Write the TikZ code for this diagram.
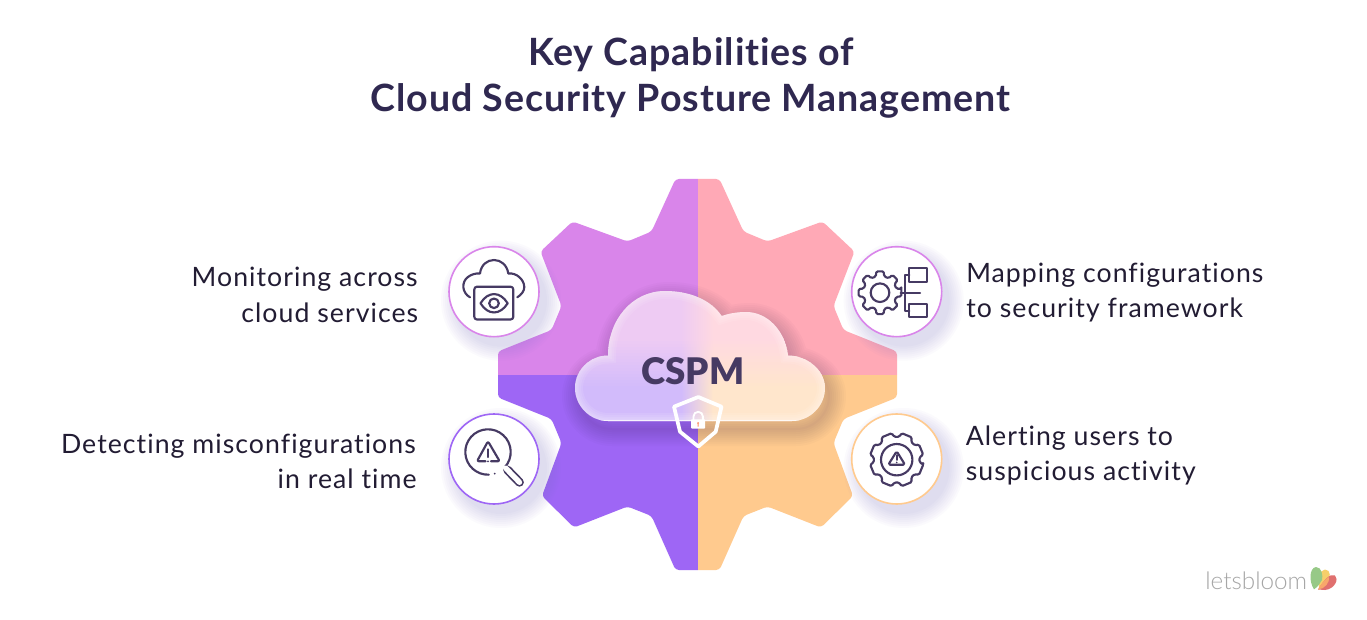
\documentclass[tikz,border=0pt]{standalone}
\usepackage{fontspec}
\usetikzlibrary{calc}
\newfontfamily\bodyf[LetterSpace=3.9,Ligatures=NoCommon]{Lato}
\newfontfamily\titlef[LetterSpace=2.5,Ligatures=NoCommon]{Lato Bold}
\newfontfamily\cspmf{Lato Black}
\newfontfamily\logof{Lato Light}
\definecolor{ink}{HTML}{221C33}
\definecolor{titlec}{HTML}{2F2850}
\definecolor{iconc}{HTML}{463A63}
\definecolor{qa}{HTML}{D985EA}
\definecolor{qb}{HTML}{FFA9B6}
\definecolor{qc}{HTML}{9E66F5}
\definecolor{qd}{HTML}{FFCA8E}
\definecolor{ca}{HTML}{EECBF3}
\definecolor{cb}{HTML}{FFD9E1}
\definecolor{cc}{HTML}{D2BBFB}
\definecolor{cd}{HTML}{FFE6CC}
\definecolor{shad}{HTML}{7566C8}
\definecolor{logog}{HTML}{A6A6A6}
\definecolor{pgreen}{HTML}{97C987}
\definecolor{pyellow}{HTML}{F6CF6B}
\definecolor{porange}{HTML}{F8A76B}
\definecolor{pred}{HTML}{E0706F}
\tikzset{
  bodyr/.style={font=\bodyf\fontsize{20}{24}\selectfont,text=ink,inner sep=0pt,anchor=base east},
  bodyl/.style={font=\bodyf\fontsize{20}{24}\selectfont,text=ink,inner sep=0pt,anchor=base west},
  titletxt/.style={font=\titlef\fontsize{28.2}{32}\selectfont,text=titlec,inner sep=0pt,anchor=base},
  badge/.style={circle,fill=white,line width=1.2pt,minimum size=67.5pt,inner sep=0pt},
  ic/.style={draw=iconc,line width=1.6pt,line cap=round,line join=round},
}
\def\gearpath{(697.5,179) -- (675.5,179) -- (651.5,231.5) -- (627.5,241.5) -- (572.5,221.5) -- (540.5,251.5) -- (561.5,306) -- (551.5,330) -- (498,351.5) -- (498,397.5) -- (551.5,419) -- (561.5,443) -- (542,496) -- (574,527.5) -- (627.5,506.5) -- (651.5,516) -- (675.5,570) -- (719.5,570) -- (743.5,516) -- (767.5,506.5) -- (821,527.5) -- (853,496) -- (833.5,443) -- (843.5,419) -- (897,397.5) -- (897,351.5) -- (843.5,330) -- (833.5,306) -- (854.5,251.5) -- (822.5,221.5) -- (767.5,241.5) -- (743.5,231.5) -- (719.5,179) -- cycle}
\def\cloudpath{(608,355.5) .. controls (590,355.5) and (575,370) .. (575,388) .. controls (575,406) and (590,421) .. (608,421) -- (792,421) .. controls (810,421) and (825,406) .. (825,388) .. controls (825,370) and (807,355.5) .. (788,355.5) .. controls (785,330) and (767,312) .. (746,312) .. controls (737,312) and (729,313.5) .. (721.7,316) .. controls (711,300) and (690,291) .. (665,291) .. controls (632,291) and (608,320) .. (608,355.5) -- cycle}
\newcommand\softshadow[2]{%
  \foreach \rr in {60,58,56,54,52,50,48,46}{
    \fill[shad,opacity=0.028] (#1+7,#2+9) circle[radius=\rr];
  }}
% cog: centre x, centre y, outer r, valley r, tooth offset deg, half width deg
\newcommand\cogicon[6]{%
  \draw[ic,rounded corners=1.1pt,shift={(#1,#2)}] (#5-#6:#3)
  \foreach \k in {0,45,...,315}{
    -- (#5+\k-#6:#3) -- (#5+\k+#6:#3) -- (#5+\k+#6+4:#4) -- (#5+\k+45-#6-4:#4)
  } -- cycle;}
\begin{document}
\begin{tikzpicture}[x=0.75pt,y=-0.75pt]
\useasboundingbox (0,0) rectangle (1367,620);
\fill[white] (0,0) rectangle (1367,620);
% title
\node[titletxt] (t1) at (691,66) {Key Capabilities of};
\node[titletxt] (t2) at (690.5,112) {Cloud Security Posture Management};
% gear
\begin{scope}
\clip[rounded corners=2.6pt] \gearpath;
\fill[qa] (490,170) rectangle (697.5,374.5);
\fill[qb] (697.5,170) rectangle (905,374.5);
\fill[qc] (490,374.5) rectangle (697.5,580);
\fill[qd] (697.5,374.5) rectangle (905,580);
% cloud shadow
\begin{scope}[shift={(4,8)}]
\foreach \w in {34,30,26,22,18,14,10,6,2}{
  \draw[black!65!qc,opacity=0.022,line width=\w*0.75pt,line join=round] \cloudpath;
}
\end{scope}
\end{scope}
% cloud body
\begin{scope}
\clip \cloudpath;
\fill[ca] (570,285) rectangle (682,340);
\fill[cb] (712,285) rectangle (830,340);
\shade[left color=ca,right color=cb] (681,285) rectangle (713,340);
\foreach \i in {0,...,16}{
  \pgfmathsetmacro\pc{100-\i*100/16}
  \pgfmathsetmacro\yy{338+\i*3}
  \pgfmathsetmacro\yz{\yy+4}
  \colorlet{tmpl}{ca!\pc!cc}
  \colorlet{tmpr}{cb!\pc!cd}
  \fill[tmpl] (570,\yy) rectangle (682,\yz);
  \fill[tmpr] (712,\yy) rectangle (830,\yz);
  \shade[left color=tmpl,right color=tmpr] (681,\yy) rectangle (713,\yz);
}
\fill[cc] (570,388) rectangle (682,425);
\fill[cd] (712,388) rectangle (830,425);
\shade[left color=cc,right color=cd] (681,388) rectangle (713,425);
\foreach \w in {16,12,8,5,2.5}{
  \draw[white,opacity=0.09,line width=\w*0.75pt] \cloudpath;
}
\draw[white,opacity=0.75,line width=1.2pt] (600,421) -- (800,421);
\end{scope}
\node[font=\cspmf\fontsize{27.5}{32}\selectfont,text=iconc,inner sep=0pt,anchor=base] (cspm) at (693,384) {CSPM};
% shield + lock
\draw[white,line width=2.8pt,line join=round] (698.3,397) -- (721.5,406.7) -- (715.7,431.7) -- (698.3,446.5) -- (680,431.7) -- (674,406.7) -- cycle;
\draw[white,line width=1.4pt] (693.5,420) -- (693.5,416.5) arc[start angle=180,end angle=360,radius=4.7] -- (702.9,420);
\fill[white,rounded corners=0.6pt] (691,419.3) rectangle (705.2,428.5);
\fill[qd!70!red] (698.1,423.2) circle[radius=1.1] (697.5,423.5) rectangle (698.7,426.5);
% badges
\softshadow{494}{291.7}\softshadow{494}{459}\softshadow{896.7}{291.7}\softshadow{896.7}{459}
\node[badge,draw=qa] (b1) at (494,291.7) {};
\node[badge,draw=qc] (b2) at (494,459) {};
\node[badge,draw=qa] (b3) at (896.7,291.7) {};
\node[badge,draw=qd] (b4) at (896.7,459) {};
% icon 1: cloud with eye
\draw[ic] (470,297.3) .. controls (462,293) and (461,282) .. (468,277) .. controls (471,274.5) and (476,273) .. (480,273.5) .. controls (481,265) and (487,260) .. (494,260) .. controls (501,260) and (507,265) .. (508.3,273.5) .. controls (516,272.5) and (524,279) .. (524.3,287) .. controls (524.5,291) and (521,295) .. (517.3,297.3);
\draw[ic,rounded corners=2pt] (474.3,286.7) rectangle (513.3,319.5);
\draw[ic] (480.5,303.3) .. controls (488,291) and (500,291) .. (507.7,303.3) .. controls (500,315.5) and (488,315.5) .. (480.5,303.3) -- cycle;
\draw[ic] (494,303.3) circle[radius=4.8];
% icon 2: magnifier with warning
\draw[ic] (488,452) ++(42:22.7) arc[start angle=42,end angle=-272,radius=22.7];
\fill[iconc] (494.7,473.7) circle[radius=1];
\draw[iconc,line width=6.6pt,line cap=round] (507.6,470) -- (519.5,482.3);
\draw[white,line width=4pt,line cap=round] (505.8,468.2) -- (519.5,482.3);
\draw[ic,rounded corners=1.5pt] (485.5,461.3) -- (477,461.3) -- (488,441.3) -- (499.7,461.3) -- (491,461.3);
\draw[ic] (488,449.3) -- (488,457);
\fill[iconc] (488,461.3) circle[radius=1];
% icon 3: cog with tree
\cogicon{880}{292.7}{21.7}{16.8}{0}{10}
\draw[ic] (880,292.7) circle[radius=9.3];
\draw[ic] (900.7,292.7) -- (920,292.7);
\draw[ic] (909.3,275) -- (905,275) -- (905,311) -- (909.3,311);
\draw[ic] (909.3,268.3) rectangle (927.3,281.7);
\draw[ic] (909.3,304.3) rectangle (927.3,317.3);
% icon 4: cog with warning
\cogicon{896.7}{459.7}{27}{23}{22.5}{12}
\draw[ic] (896.7,459.7) circle[radius=15.7];
\draw[ic,rounded corners=1.2pt] (896.7,451.3) -- (905,464.7) -- (888.3,464.7) -- cycle;
\draw[iconc,line width=1.2pt,line cap=round] (896.7,455) -- (896.7,460);
\fill[iconc] (896.7,462.4) circle[radius=0.9];
% labels
\node[bodyr] (l1) at (418,286.7) {Monitoring across};
\node[bodyr] (l2) at (418.5,322) {cloud services};
\node[bodyr] (l3) at (416,453.3) {Detecting misconfigurations};
\node[bodyr] (l4) at (417,488.3) {in real time};
\node[bodyl] (r1) at (966,282) {Mapping configurations};
\node[bodyl] (r2) at (966,317) {to security framework};
\node[bodyl] (r3) at (965.5,445) {Alerting users to};
\node[bodyl] (r4) at (965.5,480) {suspicious activity};
% logo
\node[font=\logof\fontsize{18.2}{20}\selectfont,text=logog,inner sep=0pt,anchor=base west] (logo) at (1205,589) {letsbloom};
\fill[pyellow] (1319,588) .. controls (1318,580) and (1319,570) .. (1325,569.5) .. controls (1331,569.5) and (1331,578) .. (1327,582) -- cycle;
\fill[pgreen] (1314,589.3) .. controls (1309,582) and (1309,568) .. (1316,567) .. controls (1322,567) and (1323,576) .. (1322,580) .. controls (1320,583) and (1318,587) .. (1314,589.3) -- cycle;
\fill[pred] (1318,589.5) .. controls (1324,580) and (1330,573) .. (1335,575.5) .. controls (1339,579) and (1335,589) .. (1325,590) -- cycle;
\fill[porange] (1318,589.5) .. controls (1321,584) and (1325,579) .. (1329,577) .. controls (1330,582) and (1325,589) .. (1318,589.5) -- cycle;
\end{tikzpicture}
\end{document}
